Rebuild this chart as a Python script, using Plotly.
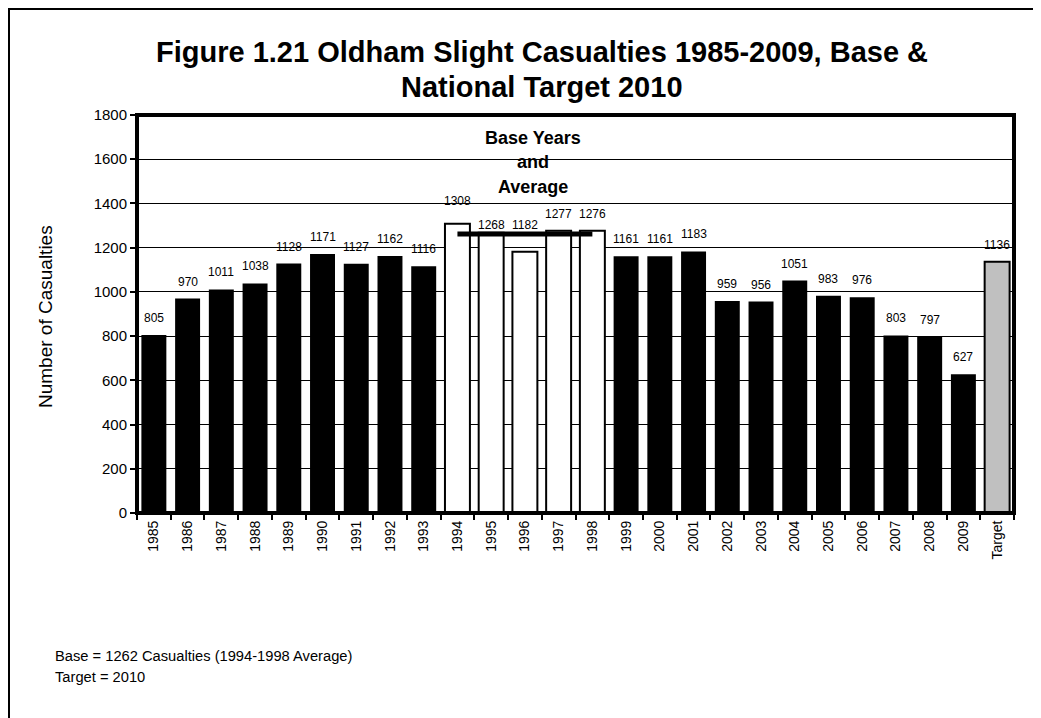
import plotly.graph_objects as go

categories = ["1985", "1986", "1987", "1988", "1989", "1990", "1991", "1992", "1993",
              "1994", "1995", "1996", "1997", "1998", "1999", "2000", "2001", "2002",
              "2003", "2004", "2005", "2006", "2007", "2008", "2009", "Target"]
casualties = [805, 970, 1011, 1038, 1128, 1171, 1127, 1162, 1116,
              1308, 1268, 1182, 1277, 1276, 1161, 1161, 1183, 959,
              956, 1051, 983, 976, 803, 797, 627, 1136]
base_years = ["1994", "1995", "1996", "1997", "1998"]
base_average = 1262
y_ticks = [0, 200, 400, 600, 800, 1000, 1200, 1400, 1600, 1800]

FONT = "Arial, Liberation Sans, sans-serif"

fill_colors = []
line_widths = []
for c in categories:
    if c in base_years:
        fill_colors.append("#FFFFFF"); line_widths.append(2)
    elif c == "Target":
        fill_colors.append("#C0C0C0"); line_widths.append(2)
    else:
        fill_colors.append("#000000"); line_widths.append(0)

# label offsets (pixels above bar top), a few moved by hand in the original
label_shift_default = 17
label_shift_override = {"1994": 23, "1995": 8, "1996": 27}

W, H = 1041, 718
L, R, T, B = 129, 1006, 107, 505
def px(x):
    return (x - L) / (R - L)
def py(y):
    return (B - y) / (B - T)

fig = go.Figure()
fig.add_trace(go.Bar(
    x=categories, y=casualties,
    marker=dict(color=fill_colors, line=dict(color="#000000", width=line_widths)),
    showlegend=False, hoverinfo="x+y",
))
fig.add_trace(go.Scatter(
    x=[base_years[0], base_years[-1]], y=[base_average, base_average],
    mode="lines", line=dict(color="#000000", width=5), showlegend=False,
))

annotations = []
for i, (c, v) in enumerate(zip(categories, casualties)):
    annotations.append(dict(
        x=i, y=v, xref="x", yref="y", text=str(v), showarrow=False,
        xanchor="center", yanchor="middle",
        yshift=label_shift_override.get(c, label_shift_default),
        font=dict(family=FONT, size=12, color="#000000"),
    ))

def note(text, x, y, size, bold=False, xanchor="center", angle=0):
    return dict(text=f"<b>{text}</b>" if bold else text, x=px(x), y=py(y),
                xref="paper", yref="paper", xanchor=xanchor, yanchor="middle",
                showarrow=False, textangle=angle,
                font=dict(family=FONT, size=size, color="#000000"))

annotations += [
    note("Figure 1.21 Oldham Slight Casualties 1985-2009, Base &", 534, 44, 29, bold=True),
    note("National Target 2010", 534, 79, 29, bold=True),
    note("Base Years", 525, 130, 18, bold=True),
    note("and", 525, 154, 18, bold=True),
    note("Average", 525, 179, 18, bold=True),
    note("Number of Casualties", 37, 309, 19, angle=-90),
    note("Base = 1262 Casualties (1994-1998 Average)", 45, 648, 14.7, xanchor="left"),
    note("Target = 2010", 45, 669, 14.7, xanchor="left"),
]

shapes = [
    dict(type="rect", xref="paper", yref="paper", x0=px(1), x1=px(1040), y0=py(800), y1=py(1),
         line=dict(color="#000000", width=2), layer="below"),
    dict(type="rect", xref="paper", yref="paper", x0=0, x1=1, y0=0, y1=1,
         line=dict(color="#000000", width=4)),
]

fig.update_layout(
    width=W, height=H,
    margin=dict(l=L, r=W - R, t=T, b=H - B, autoexpand=False),
    paper_bgcolor="#FFFFFF", plot_bgcolor="#FFFFFF",
    bargap=0.26,
    annotations=annotations, shapes=shapes,
    font=dict(family=FONT, color="#000000"),
)
fig.update_xaxes(
    type="category", categoryorder="array", categoryarray=categories,
    range=[-0.5, len(categories) - 0.5], autorange=False,
    tickangle=-90, tickson="boundaries", ticks="outside", ticklen=5,
    tickcolor="#000000", tickwidth=2, showgrid=False, showline=True,
    linecolor="#000000", linewidth=2,
    tickfont=dict(family=FONT, size=14, color="#000000"),
)
fig.update_yaxes(
    range=[0, 1800], autorange=False, tickvals=y_ticks, ticks="outside", ticklen=5,
    tickcolor="#000000", tickwidth=2, showgrid=True, gridcolor="#000000", gridwidth=1,
    zeroline=False, showline=True, linecolor="#000000", linewidth=2,
    tickfont=dict(family=FONT, size=15, color="#000000"),
)

fig.write_html("out.html")
